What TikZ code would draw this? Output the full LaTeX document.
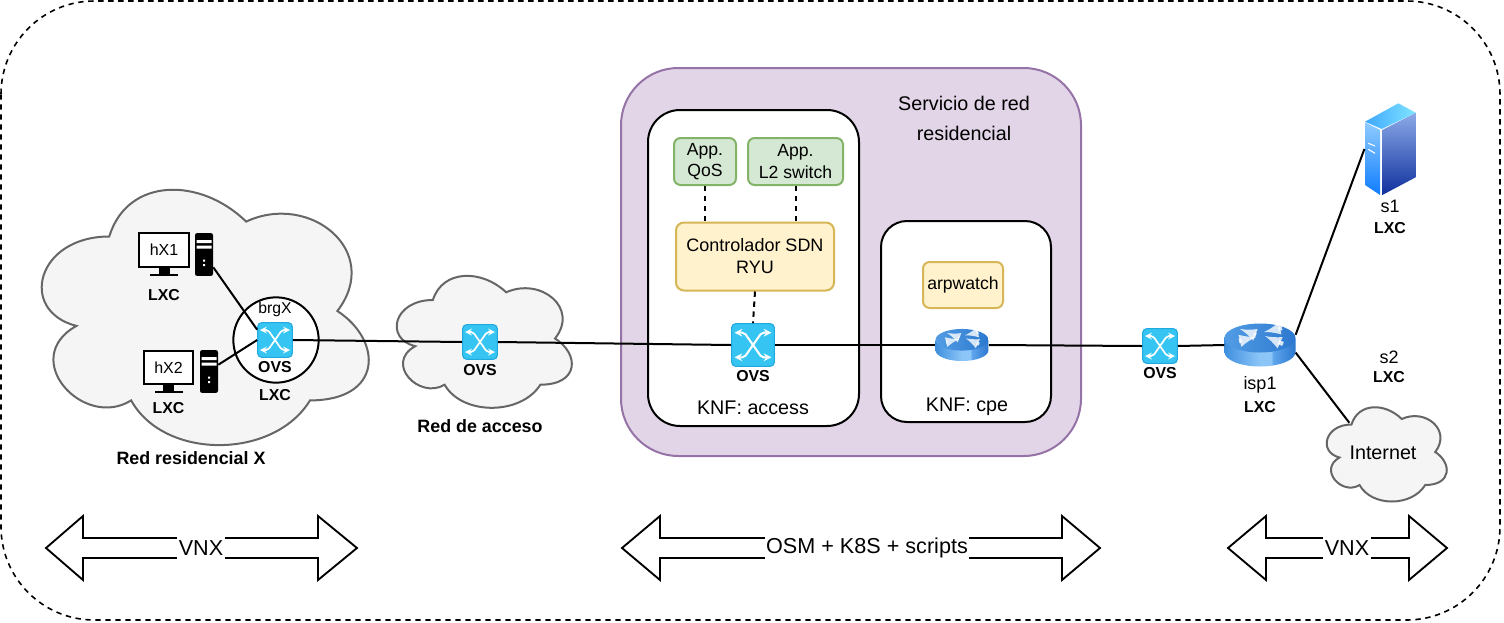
\documentclass[tikz,border=0pt]{standalone}
\usepackage{fontspec}
\setmainfont{Liberation Sans}
\usetikzlibrary{shapes,arrows,calc}
\definecolor{knffill}{HTML}{E1D5E7}
\definecolor{knfline}{HTML}{9673A6}
\definecolor{appfill}{HTML}{D5E8D4}
\definecolor{appline}{HTML}{82B366}
\definecolor{corefill}{HTML}{FFF2CC}
\definecolor{coreline}{HTML}{D6B656}
\definecolor{cloudfill}{HTML}{F5F5F5}
\definecolor{cloudline}{HTML}{666666}
\definecolor{ovsfill}{HTML}{36C5F2}
\definecolor{ovsline}{HTML}{20A9DE}
\definecolor{routerA}{HTML}{3F8FDE}
\definecolor{routerB}{HTML}{8CC6F8}
\definecolor{routerC}{HTML}{5FA6EC}
\definecolor{routerD}{HTML}{2C78CF}
\definecolor{srvlefttop}{HTML}{8FCBFF}
\definecolor{srvleftbot}{HTML}{0F7DFF}
\definecolor{srvrighttop}{HTML}{8CAAE8}
\definecolor{srvrightbot}{HTML}{10309E}
\definecolor{srvtopleft}{HTML}{3FA8FF}
\definecolor{srvtopright}{HTML}{80E4FF}
\pgfdeclarehorizontalshading{routerbody}{100bp}{color(0bp)=(routerA); color(25bp)=(routerA); color(50bp)=(routerB); color(58bp)=(routerB); color(59bp)=(routerC); color(75bp)=(routerD); color(100bp)=(routerD)}
\tikzstyle{frame} = [dashed, dash pattern=on 4pt off 3.5pt, line width=1.2pt, rounded corners=70pt]
\tikzstyle{service} = [rectangle, rounded corners=43pt, minimum width=345pt, minimum height=291pt, fill=knffill, draw=knfline, line width=1.5pt]
\tikzstyle{knf} = [rectangle, fill=white, draw=black, line width=1.5pt]
\tikzstyle{appbox} = [rectangle, rounded corners=5pt, minimum height=35.25pt, inner sep=0pt, align=center, fill=appfill, draw=appline, line width=1.5pt, font=\fontsize{13.2}{15.8}\selectfont]
\tikzstyle{corebox} = [rectangle, rounded corners=6pt, inner sep=0pt, align=center, fill=corefill, draw=coreline, line width=1.5pt]
\tikzstyle{ovsbox} = [rectangle, rounded corners=3pt, minimum size=26pt, inner sep=0pt, fill=ovsfill, draw=ovsline, line width=0.8pt]
\tikzstyle{routerbox} = [rectangle, minimum width=53pt, minimum height=32pt, inner sep=0pt]
\tikzstyle{monitor} = [rectangle, minimum width=37pt, minimum height=26pt, inner sep=0pt, draw=black, line width=1.5pt, fill=white, font=\fontsize{12}{14}\selectfont]
\tikzstyle{tower} = [rectangle, rounded corners=1.5pt, minimum width=13.5pt, minimum height=32pt, inner sep=0pt, fill=black]
\tikzstyle{boldtext} = [inner sep=0pt, font=\fontsize{11.9}{14}\bfseries\selectfont]
\tikzstyle{captext} = [inner sep=0pt, font=\fontsize{13.4}{16}\bfseries\selectfont]
\tikzstyle{plaintext} = [inner sep=0pt, align=center, font=\fontsize{14.8}{22.5}\selectfont]
\tikzstyle{smalltext} = [inner sep=0pt, font=\fontsize{13.5}{16}\selectfont]
\tikzstyle{blocktext} = [inner xsep=1pt, inner ysep=0pt, minimum height=18pt, fill=white, font=\fontsize{16.2}{19}\selectfont]
\tikzstyle{wire} = [line width=1.5pt]
\tikzstyle{softwire} = [line width=1.5pt, dashed, dash pattern=on 4pt off 3.5pt]
\tikzstyle{blockline} = [line width=1.4pt, fill=white, line join=miter]
\newcommand{\cloudarea}[4]{\draw[fill=cloudfill, draw=cloudline, line width=1.5pt, shift={(#1,#2)}, x=#3, y=#4]
  (0.25,0.25) .. controls (0.05,0.25) and (0,0.5) .. (0.16,0.55)
  .. controls (0,0.66) and (0.18,0.9) .. (0.31,0.8)
  .. controls (0.4,1) and (0.7,1) .. (0.8,0.8)
  .. controls (1,0.8) and (1,0.6) .. (0.875,0.5)
  .. controls (1,0.3) and (0.8,0.1) .. (0.625,0.2)
  .. controls (0.5,0.05) and (0.3,0.05) .. (0.25,0.25) -- cycle;}
\newcommand{\ovsglyph}[2]{\begin{scope}[shift={(#1.center)}, scale=#2, white, line width=#2*1.25pt, >=stealth, rounded corners=1.5pt]
  \draw [<->] (-15,-10) -- (-7,-10) -- (7,10) -- (15,10);
  \draw [<->] (-15,10) -- (-7,10) -- (7,-10) -- (15,-10);
\end{scope}}
\newcommand{\routerglyph}[2]{\begin{scope}[shift={(#1.center)}, scale=#2]
  \shade [shading=routerbody] (-35.5,-6.5) -- (-35.5,7) arc (180:0:35.5 and 14.5) -- (35.5,-6.5) -- cycle;
  \shade [left color=routerA!75!routerB, right color=routerD] (0,-7) ellipse (35.5 and 14.5);
  \begin{scope}[white, opacity=0.8, line width=#2*3.2pt, >=latex]
    \draw [->] (-4,-10) -- (-20,-16);
    \draw [->] (-21,-4) -- (-4,-8);
    \draw [->] (22,-17) -- (4,-13);
    \draw [->] (23,-1) -- (5,-9);
  \end{scope}
\end{scope}}
\newcommand{\serverglyph}[1]{\begin{scope}[shift={(#1.center)}]
  \shade [top color=srvlefttop, bottom color=srvleftbot] (-25,-26.7) -- (-10,-19) -- (-10,46) -- (-25,36) -- cycle;
  \shade [top color=srvrighttop, bottom color=srvrightbot] (-7.7,-19) -- (25.7,-36.3) -- (25.7,28.3) -- (-7.7,46) -- cycle;
  \shade [left color=srvtopleft, right color=srvtopright] (-25,-27.3) -- (8.3,-45.7) -- (25.7,-36.3) -- (-8.3,-20) -- cycle;
  \draw [white, line width=0.8pt] (-21.7,-5.7) -- (-15,-3) (-21.7,0.3) -- (-15,4.3);
\end{scope}}
\newcommand{\monstand}[1]{\fill ($(#1.south)+(-5.5,0)$) rectangle ($(#1.south)+(5.5,6)$);
  \fill ($(#1.south)+(-14,6)$) rectangle ($(#1.south)+(14,8)$);}
\newcommand{\towerglyph}[1]{\begin{scope}[shift={(#1.center)}]
  \fill [white] (-7.5,-14.5) rectangle (7.5,-11.5) (-7.5,-9) rectangle (7.5,-6);
  \fill [white] (-1,5) rectangle (1,7) (-1,9.5) rectangle (1,11.5);
\end{scope}}
\newcommand{\bothways}[4]{\draw [blockline] (#1,548) -- (#2,516) -- (#2,538) -- (#3,538) -- (#3,516) -- (#4,548) -- (#3,580) -- (#3,558) -- (#2,558) -- (#2,580) -- cycle;}
\begin{document}
\begin{tikzpicture}[x=0.75pt, y=-0.75pt, node distance=20pt]
        \useasboundingbox (0,0) rectangle (1504,622);
        \draw [frame] (1,1) rectangle (1500,620);
        \cloudarea{18}{162}{273.75pt}{-223.5pt}
        \cloudarea{384}{261.5}{146.6pt}{-115.5pt}
        \cloudarea{1318}{397}{100.5pt}{-82.5pt}
        \node (service) [service] at (851,262) {};
        \node (knfaccess) [knf, rounded corners=24pt, minimum width=158.25pt, minimum height=237pt] at (753.5,268) {};
        \node (knfcpe) [knf, rounded corners=19.5pt, minimum width=127.5pt, minimum height=150.75pt] at (966,321.5) {};
        \node (brg) [circle, minimum size=64pt, inner sep=0pt, fill=white, draw=black, line width=1.5pt] at (276,340) {};
        \node (servicetext) [plaintext] at (964,118) {Servicio de red\\residencial};
        \node (appqos) [appbox, minimum width=46.5pt] at (705,161.5) {App.\\QoS};
        \node (appl2) [appbox, minimum width=71.25pt] at (795.5,161.5) {App.\\L2 switch};
        \node (ctrl) [corebox, minimum width=118.5pt, minimum height=51pt, font=\fontsize{13.5}{16.5}\selectfont] at (755,256.5) {Controlador SDN\\RYU};
        \node (arpwatch) [corebox, rounded corners=5pt, minimum width=60pt, minimum height=34.5pt, font=\fontsize{13.2}{15.8}\selectfont] at (963,285) {arpwatch};
        \node (ovsbrg) [ovsbox] at (275,340) {};
        \node (ovsnet) [ovsbox] at (480,342) {};
        \node (ovsknf) [ovsbox, minimum size=32pt] at (753,345) {};
        \node (ovsisp) [ovsbox] at (1160,346) {};
        \node (cpe) [routerbox, minimum width=39.75pt, minimum height=25.5pt] at (962,345) {};
        \node (isp) [routerbox] at (1260,345) {};
        \node (s1) [rectangle, minimum width=38pt, minimum height=69pt, inner sep=0pt] at (1390,149) {};
        \node (internet) [plaintext, minimum height=45pt] at (1383,453) {Internet};
        \node (monX1) [monitor] at (164,250) {hX1};
        \node (towX1) [tower] at (204,254.5) {};
        \node (monX2) [monitor, minimum height=25pt] at (168.5,367.5) {hX2};
        \node (towX2) [tower] at (209,371.5) {};
        \ovsglyph{ovsbrg}{1}
        \ovsglyph{ovsnet}{1}
        \ovsglyph{ovsknf}{1.23}
        \ovsglyph{ovsisp}{1}
        \routerglyph{cpe}{0.746}
        \routerglyph{isp}{1}
        \serverglyph{s1}
        \monstand{monX1}
        \monstand{monX2}
        \towerglyph{towX1}
        \towerglyph{towX2}
        \node (lxcX1) [boldtext, below of=monX1, yshift=-13.5pt] {LXC};
        \node (lxcX2) [boldtext, below of=monX2, yshift=-10.5pt] {LXC};
        \node (brgtext) [smalltext, above of=ovsbrg, yshift=3.25pt, font=\fontsize{11.8}{14}\selectfont] {brgX};
        \node (ovsbrgtext) [boldtext, below of=ovsbrg] {OVS};
        \node (lxcbrg) [boldtext, below of=ovsbrgtext, yshift=-1pt] {LXC};
        \node (cloudX) [captext] at (191,458) {Red residencial X};
        \node (ovsnettext) [boldtext, below of=ovsnet, yshift=-1pt] {OVS};
        \node (cloudnet) [captext] at (480,426) {Red de acceso};
        \node (ovsknftext) [boldtext, below of=ovsknf, yshift=-3pt] {OVS};
        \node (accesstext) [plaintext] at (753,408) {KNF: access};
        \node (cpetext) [plaintext] at (967,407) {KNF: cpe};
        \node (ovsisptext) [boldtext, below of=ovsisp] {OVS};
        \node (isptext) [smalltext, below of=isp, yshift=-10pt] {isp1};
        \node (lxcisp) [boldtext, below of=isptext, yshift=3.5pt] {LXC};
        \node (s1text) [smalltext] at (1390,206) {s1};
        \node (lxcs1) [boldtext, below of=s1text, yshift=3.5pt] {LXC};
        \node (s2text) [smalltext] at (1389,357) {s2};
        \node (lxcs2) [boldtext, below of=s2text, yshift=5pt] {LXC};
        \draw [wire] (towX1.-54) -- (ovsbrg.150);
        \draw [wire] (towX2.36) -- (ovsbrg.west);
        \draw [wire] (ovsbrg.east) -- (ovsnet.west);
        \draw [wire] (ovsnet.east) -- (ovsknf.west);
        \draw [wire] (ovsknf.east) -- (cpe.west);
        \draw [wire] (cpe.east) -- (ovsisp.west);
        \draw [wire] (ovsisp.east) -- (isp.west);
        \draw [wire] (isp.16) -- (s1.west);
        \draw [wire] (isp.-12) -- (internet.north west);
        \draw [softwire] (appqos.south) -- (appqos.south |- ctrl.north);
        \draw [softwire] (appl2.south) -- (appl2.south |- ctrl.north);
        \draw [softwire] (ctrl.south) -- (ovsknf.north);
        \bothways{46}{83}{318}{357}
        \node (vnxA) [blocktext] at (201,548) {VNX};
        \bothways{622}{660}{1062}{1100}
        \node (osm) [blocktext] at (867,548) {OSM + K8S + scripts};
        \bothways{1228}{1266}{1409}{1447}
        \node (vnxB) [blocktext] at (1347,548) {VNX};
    \end{tikzpicture}
\end{document}
